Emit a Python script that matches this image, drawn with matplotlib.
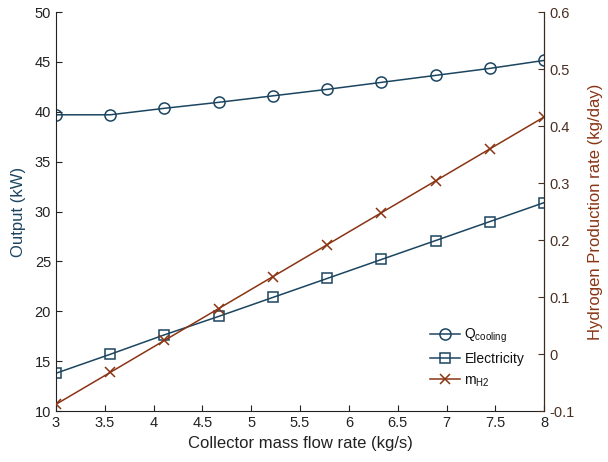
import matplotlib
matplotlib.use("Agg")
import matplotlib.pyplot as plt

plt.rcParams['font.family'] = ['Liberation Sans', 'DejaVu Sans']
plt.rcParams['mathtext.default'] = 'regular'

flow = [3.0, 3.556, 4.111, 4.667, 5.222, 5.778, 6.333, 6.889, 7.444, 8.0]
q_cooling = [39.7, 39.7, 40.35, 40.95, 41.6, 42.25, 42.95, 43.65, 44.35, 45.15]
electricity = [13.8, 15.7, 17.65, 19.5, 21.4, 23.3, 25.2, 27.1, 29.0, 30.9]
m_h2 = [-0.088, -0.032, 0.024, 0.080, 0.136, 0.192, 0.248, 0.304, 0.360, 0.416]

blue = '#1c4560'
brown = '#8a3414'
dark = '#222222'

fig = plt.figure(figsize=(6.08, 4.62), dpi=100)
ax = fig.add_axes([0.092, 0.110, 0.803, 0.864])
ax2 = ax.twinx()

l1, = ax.plot(flow, q_cooling, '-o', color=blue, mfc='none', ms=8, mew=1.1, lw=1.1, label='Q$_{cooling}$')
l2, = ax.plot(flow, electricity, '-s', color=blue, mfc='none', ms=6.5, mew=1.1, lw=1.1, label='Electricity')
l3, = ax2.plot(flow, m_h2, '-x', color=brown, ms=7, mew=1.1, lw=1.1, label='m$_{H2}$')

ax.set_xlim(3, 8)
ax.set_ylim(10, 50)
ax2.set_ylim(-0.1, 0.6)
ax.set_xticks([3, 3.5, 4, 4.5, 5, 5.5, 6, 6.5, 7, 7.5, 8])
ax.set_xticklabels(['3', '3.5', '4', '4.5', '5', '5.5', '6', '6.5', '7', '7.5', '8'])
ax.set_yticks([10, 15, 20, 25, 30, 35, 40, 45, 50])
ax2.set_yticks([-0.1, 0, 0.1, 0.2, 0.3, 0.4, 0.5, 0.6])
ax2.set_yticklabels(['-0.1', '0', '0.1', '0.2', '0.3', '0.4', '0.5', '0.6'])

for a in (ax, ax2):
    a.tick_params(direction='in', length=4, width=0.8, labelsize=10.5, colors=dark)
ax2.tick_params(axis='y', colors='#4a3024')
ax.spines['top'].set_visible(False)
ax2.spines['top'].set_visible(False)
for s in ('left', 'bottom'):
    ax.spines[s].set_color(dark)
ax2.spines['right'].set_color('#3a2a20')
ax2.spines['left'].set_visible(False)
ax2.spines['bottom'].set_visible(False)

ax.set_xlabel('Collector mass flow rate (kg/s)', fontsize=12, color=dark, labelpad=4)
ax.set_ylabel('Output (kW)', fontsize=12, color=blue, labelpad=6)
ax2.set_ylabel('Hydrogen Production rate (kg/day)', fontsize=12, color=brown, labelpad=10)

leg = ax.legend(handles=[l1, l2, l3], loc='lower right', bbox_to_anchor=(0.985, 0.025),
                frameon=False, fontsize=10, handlelength=2.2, handletextpad=0.3, labelspacing=0.5)
for t in leg.get_texts():
    t.set_color('#111111')

fig.savefig('out.png', dpi=100)
